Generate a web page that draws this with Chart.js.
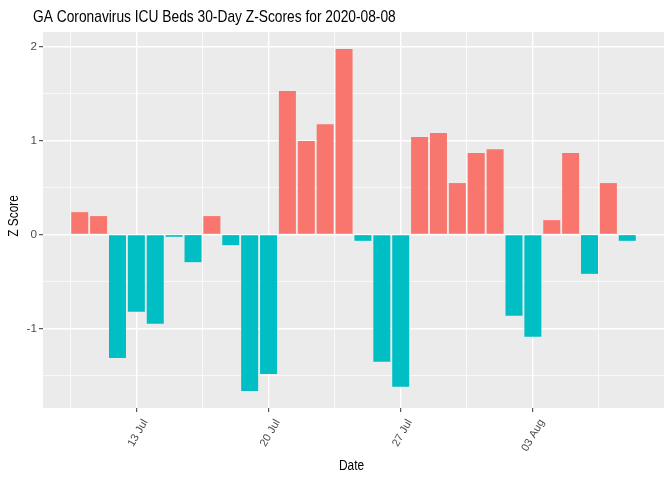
<!DOCTYPE html>
<html><head><meta charset="utf-8">
<script src="https://cdn.jsdelivr.net/npm/chart.js@4"></script>
<style>html,body{margin:0;padding:0;background:#fff}#c{display:block}</style>
</head><body>
<canvas id="c" width="672" height="480"></canvas>
<script>
const dates = ['2020-07-10','2020-07-11','2020-07-12','2020-07-13','2020-07-14','2020-07-15','2020-07-16','2020-07-17','2020-07-18','2020-07-19',
  '2020-07-20','2020-07-21','2020-07-22','2020-07-23','2020-07-24','2020-07-25','2020-07-26','2020-07-27','2020-07-28','2020-07-29',
  '2020-07-30','2020-07-31','2020-08-01','2020-08-02','2020-08-03','2020-08-04','2020-08-05','2020-08-06','2020-08-07','2020-08-08'];
const zScores = [0.237, 0.195, -1.313, -0.823, -0.951, -0.025, -0.295, 0.195, -0.114, -1.664,
  -1.483, 1.524, 0.993, 1.173, 1.971, -0.068, -1.355, -1.621, 1.035, 1.078,
  0.546, 0.865, 0.907, -0.866, -1.089, 0.152, 0.865, -0.419, 0.546, -0.068];
const tickDates = ['2020-07-13','2020-07-20','2020-07-27','2020-08-03'];
const tickLabels = ['13 Jul','20 Jul','27 Jul','03 Aug'];
const yMajorTicks = [-1, 0, 1, 2];
const yMinorTicks = [-1.5, -0.5, 0.5, 1.5];
const titleText = 'GA Coronavirus ICU Beds 30-Day Z-Scores for 2020-08-08';
const xTitle = 'Date';
const yTitle = 'Z Score';

const FONT = "'Liberation Sans', Arial, sans-serif";
const DAY = 86400000;
const dayNum = s => Date.parse(s + 'T00:00:00Z') / DAY;
const xs = dates.map(dayNum);
const xMajor = tickDates.map(dayNum);
const half = 0.45;
const xSpan = (xs[xs.length - 1] + half) - (xs[0] - half);
const xMin = xs[0] - half - 0.05 * xSpan;
const xMax = xs[xs.length - 1] + half + 0.05 * xSpan;
const xMinor = [xMajor[0] - 3.5].concat(xMajor.map(v => v + 3.5)).filter(v => v > xMin && v < xMax);
const yLo = Math.min(0, ...zScores), yHi = Math.max(0, ...zScores);
const ySpan = yHi - yLo;
const yMin = yLo - 0.05 * ySpan, yMax = yHi + 0.05 * ySpan;

const isXMajor = v => xMajor.some(m => Math.abs(m - v) < 1e-6);
const isYMajor = v => yMajorTicks.some(m => Math.abs(m - v) < 1e-6);

function condensedText(ctx, text, x, y, size, rot, align) {
  ctx.save();
  ctx.translate(x, y);
  if (rot) ctx.rotate(rot);
  ctx.scale(0.81, 1);
  ctx.fillStyle = '#000000';
  ctx.font = size + 'px ' + FONT;
  ctx.textBaseline = 'middle';
  ctx.textAlign = align;
  ctx.fillText(text, 0, 0);
  ctx.restore();
}

const bgPlugin = {
  id: 'panelBg',
  beforeDraw(chart) {
    const {ctx, chartArea: a} = chart;
    ctx.save();
    ctx.fillStyle = '#EBEBEB';
    ctx.fillRect(a.left, a.top, a.right - a.left, a.bottom - a.top);
    ctx.restore();
  },
  afterDraw(chart) {
    const {ctx, chartArea: a} = chart;
    condensedText(ctx, titleText, 33, 17, 17, 0, 'left');
    condensedText(ctx, xTitle, (a.left + a.right) / 2 - 2, 466, 14.7, 0, 'center');
    condensedText(ctx, yTitle, 14, (a.top + a.bottom) / 2 - 4, 14.7, -Math.PI / 2, 'center');
  }
};

new Chart(document.getElementById('c'), {
  type: 'bar',
  data: {
    datasets: [{
      data: xs.map((x, i) => ({x: x, y: zScores[i]})),
      backgroundColor: zScores.map(v => v >= 0 ? '#F8766D' : '#00BFC4'),
      borderWidth: 0,
      categoryPercentage: 1.0,
      barPercentage: 0.9
    }]
  },
  options: {
    responsive: false,
    devicePixelRatio: 1,
    animation: false,
    layout: {padding: {left: 5, right: 8, top: 32, bottom: 5}},
    plugins: {legend: {display: false}, tooltip: {enabled: false}, title: {display: false}},
    scales: {
      x: {
        type: 'linear',
        offset: false,
        min: xMin, max: xMax,
        afterBuildTicks: s => { s.ticks = xMinor.concat(xMajor).sort((a, b) => a - b).map(v => ({value: v})); },
        afterFit: s => { s.height = 67; },
        border: {display: false},
        grid: {
          offset: false,
          color: '#FFFFFF',
          lineWidth: c => (c.tick && isXMajor(c.tick.value)) ? 1.4 : 0.7,
          tickColor: c => (c.tick && isXMajor(c.tick.value)) ? '#333333' : 'rgba(0,0,0,0)',
          tickLength: 4,
          tickWidth: 1
        },
        ticks: {
          autoSkip: false,
          minRotation: 60, maxRotation: 60,
          padding: 5,
          labelOffset: 9,
          color: '#4D4D4D',
          font: {family: FONT, size: 11},
          callback: v => { const i = xMajor.findIndex(m => Math.abs(m - v) < 1e-6); return i >= 0 ? tickLabels[i] : ''; }
        },
        title: {display: false}
      },
      y: {
        type: 'linear',
        min: yMin, max: yMax,
        afterBuildTicks: s => { s.ticks = yMinorTicks.concat(yMajorTicks).sort((a, b) => a - b).map(v => ({value: v})); },
        afterFit: s => { s.width = 38; },
        border: {display: false},
        grid: {
          color: '#FFFFFF',
          lineWidth: c => (c.tick && isYMajor(c.tick.value)) ? 1.4 : 0.7,
          tickColor: c => (c.tick && isYMajor(c.tick.value)) ? '#333333' : 'rgba(0,0,0,0)',
          tickLength: 4,
          tickWidth: 1
        },
        ticks: {
          autoSkip: false,
          padding: 2,
          color: '#4D4D4D',
          font: {family: FONT, size: 11.7},
          callback: v => isYMajor(v) ? String(Math.round(v)) : ''
        },
        title: {display: false}
      }
    }
  },
  plugins: [bgPlugin]
});
</script>
</body></html>
